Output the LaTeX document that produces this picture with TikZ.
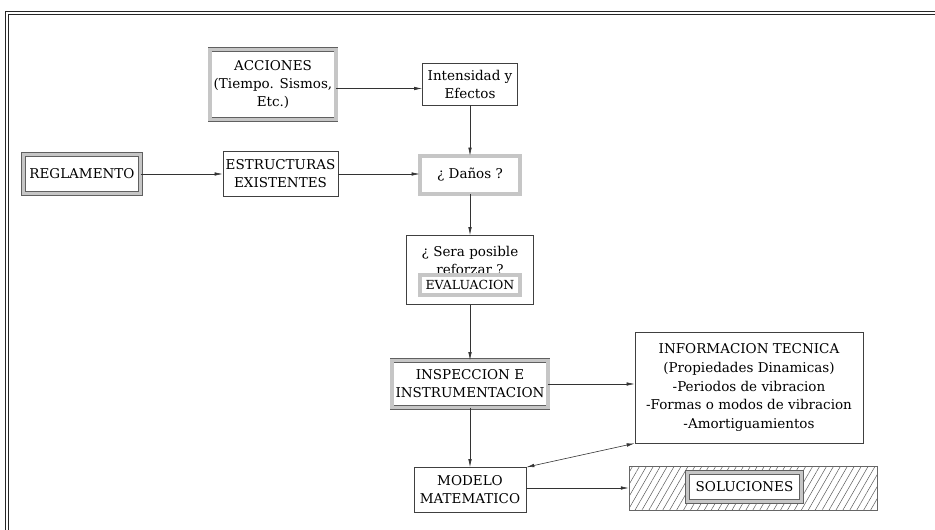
\documentclass[tikz,border=0pt]{standalone}
\usepackage{fontspec}
\setmainfont{DejaVu Serif}
\usepackage{tikz}
\usetikzlibrary{arrows.meta, patterns.meta}

\begin{document}
\begin{tikzpicture}[x=1pt, y=-1pt,
    every node/.style={font=\fontsize{13.5}{18}\selectfont, align=center},
    box/.style={draw=black!75, line width=0.7pt, fill=white, inner sep=1pt},
    dbox/.style={draw=gray!75!black, line width=0.7pt, double=gray!45, double distance=3.4pt, fill=white, inner sep=1pt},
    arr/.style={draw=black!80, line width=0.6pt, -{Latex[length=8pt,width=3.5pt]}},
    dblarr/.style={draw=black!80, line width=0.6pt, {Latex[length=8pt,width=3.5pt]}-{Latex[length=8pt,width=3.5pt]}},
    frame/.style={draw=black!85, line width=1pt, double=white, double distance=1.6pt}]

            \useasboundingbox (0,0) rectangle (935,530);
            \draw[frame] (935,13) -- (7,13) -- (7,530);

            % top row
            \node[dbox, minimum width=126, minimum height=70] (acciones) at (273,84.5) {ACCIONES\\(Tiempo. Sismos,\\Etc.)};
            \node[box, minimum width=95, minimum height=42] (intensidad) at (470,84) {Intensidad y\\Efectos};

            % second row
            \node[dbox, minimum width=117, minimum height=39] (reglamento) at (82,174) {REGLAMENTO};
            \node[box, minimum width=115, minimum height=45] (estructuras) at (280.5,174) {ESTRUCTURAS\\EXISTENTES};
            \node[dbox, minimum width=100, minimum height=38] (danos) at (470,175) {¿ Daños ?};

            % evaluacion
            \node[box, minimum width=127, minimum height=69] (sera) at (470,270) {};
            \node (pregunta) at (470,260) {¿ Sera posible\\reforzar ?};
            \node[dbox, minimum width=100, minimum height=20, inner sep=0pt, font=\fontsize{12.5}{16}\selectfont] (evaluacion) at (470,285) {EVALUACION};

            % lower part
            \node[dbox, minimum width=156, minimum height=47] (inspeccion) at (470,384) {INSPECCION E\\INSTRUMENTACION};
            \node[box, minimum width=112, minimum height=45] (modelo) at (470,490) {MODELO\\MATEMATICO};
            \node[box, minimum width=228, minimum height=111, font=\fontsize{13.5}{18.7}\selectfont] (info) at (749,387.5) {INFORMACION TECNICA\\(Propiedades Dinamicas)\\-Periodos de vibracion\\-Formas o modos de vibracion\\-Amortiguamientos};
            \node[draw=black!60, line width=0.6pt, pattern={Lines[angle=60, distance=6pt, line width=0.5pt]}, pattern color=black!65, minimum width=248, minimum height=44] (rayado) at (753,488) {};
            \node[dbox, minimum width=114, minimum height=29] (soluciones) at (744.5,487) {SOLUCIONES};

            \draw[arr] ([yshift=-4pt]acciones.east) -- ([yshift=-4pt]acciones.east -| intensidad.west);
            \draw[arr] (intensidad) -- (danos);
            \draw[arr] (reglamento) -- (estructuras);
            \draw[arr] (estructuras.east) -- (estructuras.east -| danos.west);
            \draw[arr] (danos) -- (sera);
            \draw[arr] (sera) -- (inspeccion);
            \draw[arr] (inspeccion) -- (modelo);
            \draw[arr] (inspeccion.east) -- (inspeccion.east -| info.west);
            \draw[dblarr] (modelo.north east) -- (info.south west);
            \draw[arr] (rayado.west -| modelo.east) -- (rayado.west);
        \end{tikzpicture}
\end{document}
